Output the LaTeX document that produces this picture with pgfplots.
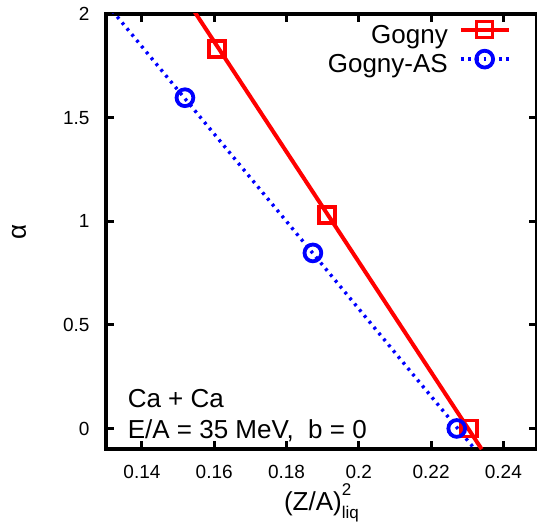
\documentclass[border=0pt]{standalone}
\usepackage{pgfplots}
\pgfplotsset{compat=1.18}
\usepackage{fontspec}
\setmainfont{Liberation Sans}
\usetikzlibrary{calc}

\begin{document}
\begin{tikzpicture}
\begin{axis}[
	scale only axis,
	width=215.6pt, height=217.6pt,
	xmin=0.13, xmax=0.2493,
	ymin=-0.1, ymax=2,
	xtick={0.14,0.16,0.18,0.2,0.22,0.24},
	ytick={0,0.5,1,1.5,2},
	/pgf/number format/assume math mode=true,
	/pgf/number format/fixed,
	tick label style={font=\fontsize{9.5}{11}\selectfont},
	xticklabel style={yshift=-4.5pt},
	yticklabel style={xshift=-4.6pt},
	axis line style={line width=1.8pt},
	major tick style={line width=1.5pt, black},
	major tick length=4pt,
	label style={font=\fontsize{13}{15}\selectfont},
	xlabel={(Z/A)\rlap{\raisebox{1.05ex}{\fontsize{8.5}{10}\selectfont 2}}\raisebox{-0.6ex}{\fontsize{8.5}{10}\selectfont liq}},
	xlabel style={at={(axis description cs:0.5,0)}, anchor=base, yshift=-30.5pt},
	ylabel={α},
	ylabel style={at={(axis description cs:-0.201,0.5)}, anchor=center},
	legend plot pos=right,
	legend cell align=right,
	legend image code/.code={\draw[mark repeat=2,mark phase=2] plot coordinates {(0cm,3.9pt) (0.42cm,3.9pt) (0.84cm,3.9pt)};},
	legend style={draw=none, fill=none, inner sep=0pt,
		font=\fontsize{13}{15}\selectfont,
		nodes={inner sep=0pt, text height=9.5pt, text depth=3.75pt},
		at={(axis description cs:1,1)}, anchor=north east,
		xshift=-13pt, yshift=-3.65pt, row sep=0pt, column sep=5.5pt},
]
% fits
\addplot[red, line width=2pt, forget plot] coordinates {(0.1512,2.1) (0.2340,-0.1)};
\addplot[blue, line width=1.7pt, dash pattern=on 1.4pt off 2.4pt, forget plot] coordinates {(0.1278,2.1) (0.2321,-0.1)};
% points
\addplot[red, only marks, mark=square, mark size=4pt, line width=1.8pt, forget plot]
	coordinates {(0.1607,1.831) (0.1912,1.030) (0.2305,0.0)};
\addplot[blue, only marks, mark=o, mark size=4.2pt, line width=1.9pt, forget plot]
	coordinates {(0.1519,1.596) (0.1873,0.847) (0.2271,0.0)};
\addlegendimage{red, line width=2pt, mark=square, mark size=4pt, mark options={solid, line width=1.8pt}}
\addlegendentry{Gogny}
\addlegendimage{blue, line width=1.7pt, dash pattern=on 1.4pt off 2.4pt, mark=o, mark size=4.2pt, mark options={solid, line width=1.9pt}}
\addlegendentry{Gogny-AS}

\node[anchor=base west, inner sep=0pt, xshift=10.8pt, yshift=20.8pt, font=\fontsize{13}{15}\selectfont] at (rel axis cs:0,0) {Ca + Ca};
\node[anchor=base west, inner sep=0pt, xshift=10.8pt, yshift=5.5pt, font=\fontsize{13}{15}\selectfont] at (rel axis cs:0,0) {E/A = 35 MeV,\ \ b = 0};
\end{axis}
\pgfresetboundingbox
\useasboundingbox ($(current axis.south west)+(-52.9pt,-36pt)$) rectangle ($(current axis.north east)+(0pt,7pt)$);
\end{tikzpicture}
\end{document}
